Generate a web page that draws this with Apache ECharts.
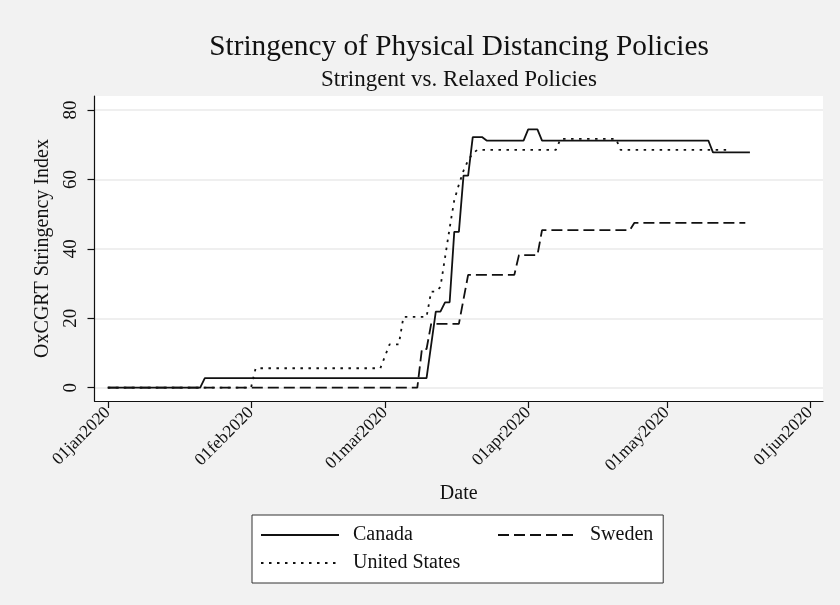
<!DOCTYPE html>
<html>
<head>
<meta charset="utf-8">
<script src="https://cdn.jsdelivr.net/npm/echarts@6/dist/echarts.min.js"></script>
<style>
  html, body { margin: 0; padding: 0; background: #f2f2f2; }
  #chart { width: 840px; height: 605px; }
</style>
</head>
<body>
<div id="chart"></div>
<script>
// OxCGRT stringency index, daily values (listed at the days where the level changes)
const canadaDates = ['2020-01-01', '2020-01-21', '2020-01-22', '2020-03-10', '2020-03-12', '2020-03-13',
  '2020-03-14', '2020-03-15', '2020-03-16', '2020-03-17', '2020-03-18', '2020-03-19', '2020-03-20',
  '2020-03-22', '2020-03-23', '2020-03-31', '2020-04-01', '2020-04-03', '2020-04-04', '2020-05-10',
  '2020-05-11', '2020-05-19'];
const canadaValues = [0, 0, 2.78, 2.78, 21.9, 21.9,
  24.6, 24.6, 44.9, 44.9, 61.1, 61.1, 72.2,
  72.2, 71.2, 71.2, 74.4, 74.4, 71.2, 71.2,
  67.8, 67.8];

const usDates = ['2020-01-01', '2020-02-01', '2020-02-02', '2020-02-29', '2020-03-02', '2020-03-04',
  '2020-03-05', '2020-03-10', '2020-03-11', '2020-03-12', '2020-03-13', '2020-03-14', '2020-03-15',
  '2020-03-16', '2020-03-17', '2020-03-18', '2020-03-19', '2020-03-20', '2020-03-21', '2020-04-07',
  '2020-04-08', '2020-04-20', '2020-04-21', '2020-05-15'];
const usValues = [0, 0, 5.6, 5.6, 12.5, 12.5,
  20.4, 20.4, 27.7, 27.7, 29.0, 37.5, 46.0,
  54.0, 58.5, 62.5, 65.5, 67.5, 68.5, 68.5,
  71.7, 71.7, 68.5, 68.5];

const swedenDates = ['2020-01-01', '2020-03-08', '2020-03-09', '2020-03-10', '2020-03-11', '2020-03-17',
  '2020-03-19', '2020-03-29', '2020-03-30', '2020-04-03', '2020-04-04', '2020-04-23', '2020-04-24',
  '2020-05-18'];
const swedenValues = [0, 0, 11.15, 11.15, 18.4, 18.4,
  32.5, 32.5, 38.2, 38.2, 45.4, 45.4, 47.5,
  47.5];

// Axis ticks
const dateTicks = ['2020-01-01', '2020-02-01', '2020-03-01', '2020-04-01', '2020-05-01', '2020-06-01'];
const dateTickLabels = ['01jan2020', '01feb2020', '01mar2020', '01apr2020', '01may2020', '01jun2020'];
const yTicks = [0, 20, 40, 60, 80];

const DAY = 86400000;
const FONT = "'Liberation Serif', 'DejaVu Serif', serif";
const INK = '#111111';

function ts(s) {
  const p = s.split('-').map(Number);
  return Date.UTC(p[0], p[1] - 1, p[2]);
}
function pairs(dates, values) {
  return dates.map((d, i) => [ts(d), values[i]]);
}
const tickValues = dateTicks.map(ts);

const chart = echarts.init(document.getElementById('chart'), null, { renderer: 'canvas' });

const lineSeries = (name, dates, values, type, z) => ({
  name: name,
  type: 'line',
  data: pairs(dates, values),
  symbol: 'none',
  showSymbol: false,
  z: z,
  animation: false,
  lineStyle: { color: INK, width: 1.8, type: type, cap: 'butt' },
  itemStyle: { color: INK },
  emphasis: { disabled: true }
});

const legendText = { fontFamily: FONT, fontSize: 20, color: INK, lineHeight: 20, padding: [0, 0, 0, 9] };
const legendMarker = { color: 'transparent', borderColor: 'transparent', borderWidth: 0, opacity: 0 };

chart.setOption({
  backgroundColor: '#f2f2f2',
  animation: false,
  title: [
    {
      text: 'Stringency of Physical Distancing Policies',
      left: 459, top: 33, textAlign: 'center', padding: 0,
      textStyle: { fontFamily: FONT, fontSize: 29.3, fontWeight: 'normal', color: INK, lineHeight: 29 }
    },
    {
      text: 'Stringent vs. Relaxed Policies',
      left: 459, top: 68, textAlign: 'center', padding: 0,
      textStyle: { fontFamily: FONT, fontSize: 23, fontWeight: 'normal', color: INK, lineHeight: 23 }
    }
  ],
  grid: {
    left: 94.5, right: 17, top: 96, bottom: 204,
    show: true, backgroundColor: '#ffffff', borderWidth: 0,
    containLabel: false, outerBoundsMode: 'none'
  },
  legend: [
    {
      data: ['Canada', 'United States'],
      orient: 'vertical',
      left: 252, top: 515,
      padding: [10, 203, 10, 8],
      itemGap: 8, itemWidth: 78, itemHeight: 14,
      backgroundColor: '#ffffff', borderColor: '#333333', borderWidth: 1, borderRadius: 0,
      itemStyle: legendMarker,
      textStyle: legendText,
      selectedMode: false
    },
    {
      data: ['Sweden'],
      orient: 'vertical',
      left: 497, top: 525,
      padding: 0,
      itemWidth: 78, itemHeight: 14,
      itemStyle: legendMarker,
      textStyle: legendText,
      selectedMode: false
    }
  ],
  xAxis: {
    type: 'value',
    min: ts('2020-01-01') - 2.88 * DAY,
    max: ts('2020-06-01') + 2.82 * DAY,
    axisLine: { show: true, onZero: false, lineStyle: { color: INK, width: 1.2 } },
    axisTick: { show: true, length: 7, customValues: tickValues, lineStyle: { color: INK, width: 1.2 } },
    axisLabel: {
      customValues: tickValues,
      rotate: 45, margin: 9,
      fontFamily: FONT, fontSize: 17.5, color: INK,
      formatter: v => {
        const i = tickValues.indexOf(v);
        return i >= 0 ? dateTickLabels[i] : '';
      }
    },
    splitLine: { show: false },
    name: 'Date', nameLocation: 'middle', nameGap: 83,
    nameTextStyle: { fontFamily: FONT, fontSize: 20, color: INK }
  },
  yAxis: {
    type: 'value',
    min: -3.83, max: 84.03,
    axisLine: { show: true, lineStyle: { color: INK, width: 1.2 } },
    axisTick: { show: true, length: 7, customValues: yTicks, lineStyle: { color: INK, width: 1.2 } },
    axisLabel: {
      customValues: yTicks,
      rotate: 90, margin: 14,
      fontFamily: FONT, fontSize: 19, color: INK
    },
    splitLine: { show: true, lineStyle: { color: '#eaeaea', width: 1.6 } },
    name: 'OxCGRT Stringency Index', nameLocation: 'middle', nameRotate: 90, nameGap: 42,
    nameTextStyle: { fontFamily: FONT, fontSize: 20, color: INK }
  },
  series: [
    lineSeries('Sweden', swedenDates, swedenValues, [11, 5], 2),
    lineSeries('United States', usDates, usValues, [2.5, 5.5], 3),
    lineSeries('Canada', canadaDates, canadaValues, 'solid', 4)
  ]
});
</script>
</body>
</html>
